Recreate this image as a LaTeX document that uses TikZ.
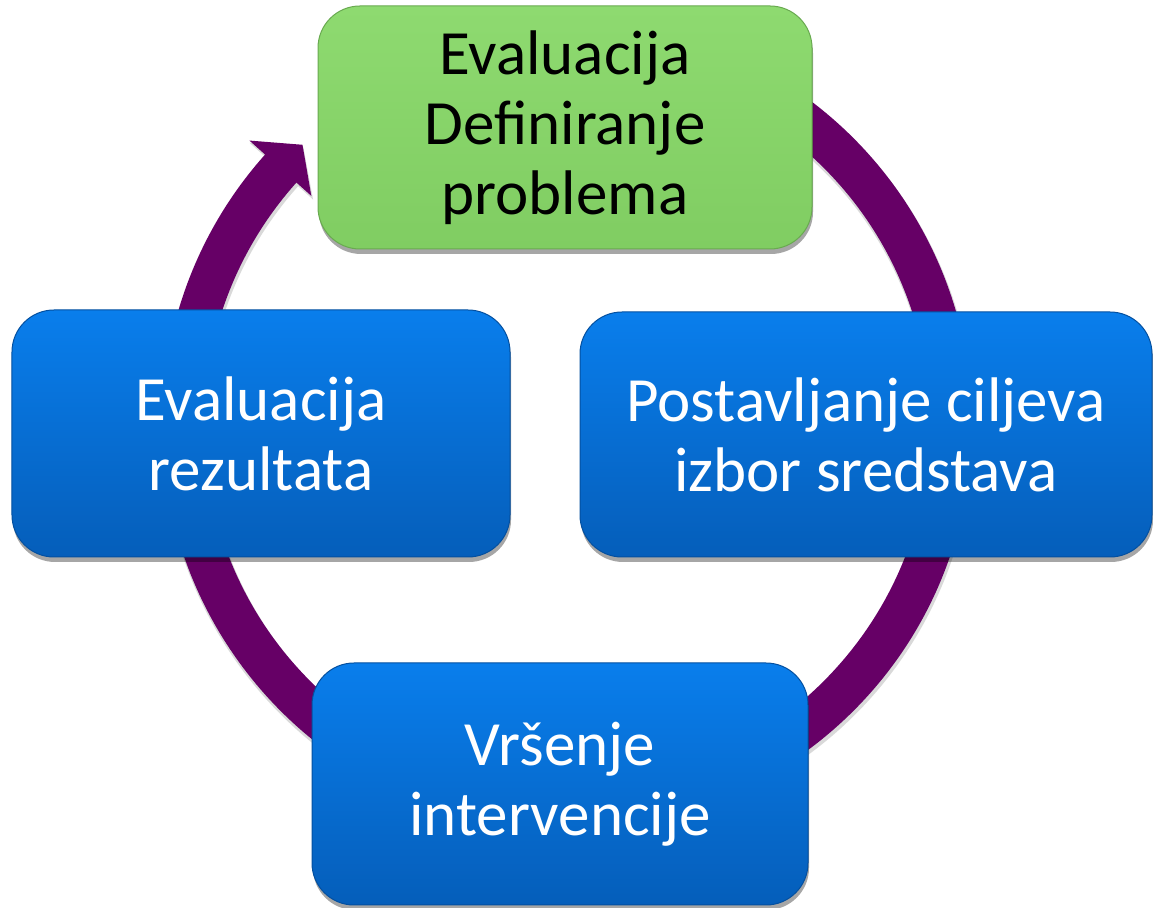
\documentclass[tikz,border=0pt]{standalone}
\usepackage{fontspec}
\setmainfont{Carlito}
\usetikzlibrary{calc,shadows}
\definecolor{ringc}{RGB}{102,0,102}
\definecolor{bluetop}{RGB}{9,126,236}
\definecolor{bluebot}{RGB}{5,94,186}
\definecolor{blueedge}{RGB}{4,80,160}
\definecolor{greentop}{RGB}{142,218,112}
\definecolor{greenbot}{RGB}{128,205,98}
\definecolor{greenedge}{RGB}{105,170,80}
\tikzset{
  ringfill/.style={fill=ringc},
  ringshadow/.style={fill=black, opacity=0.15},
  boxbase/.style={rectangle, rounded corners=42bp, align=center,
    font=\fontsize{63bp}{70bp}\selectfont, inner sep=0pt,
    drop shadow={shadow xshift=1bp, shadow yshift=-5bp, opacity=0.35, fill=black}},
  bluebox/.style={boxbase, top color=bluetop, bottom color=bluebot,
    draw=blueedge, line width=1bp, text=white},
  greenbox/.style={boxbase, top color=greentop, bottom color=greenbot,
    draw=greenedge, line width=1bp, text=black},
}
\begin{document}
\begin{tikzpicture}[x=1bp,y=1bp]
\useasboundingbox[fill=white] (0,0) rectangle (1153,908);
\coordinate (c) at (567,483.5);
\coordinate (cs) at (568,480.5);
% ring shadow
\path[ringshadow] ($(cs)+(80:406)$) arc[start angle=80, end angle=-221.8, radius=406bp]
  -- ($(cs)+(138.2:427)$) -- ($(cs)+(133.4:385)$) -- ($(cs)+(138.2:342)$)
  -- ($(cs)+(138.2:362)$) arc[start angle=138.2, end angle=440, radius=362bp] -- cycle;
% ring with arrowhead
\path[ringfill] ($(c)+(80:405)$) arc[start angle=80, end angle=-221.8, radius=405bp]
  -- ($(c)+(138.2:426)$) -- ($(c)+(133.4:385)$) -- ($(c)+(138.2:343)$)
  -- ($(c)+(138.2:363)$) arc[start angle=138.2, end angle=440, radius=363bp] -- cycle;
% boxes
\node[greenbox, minimum width=494bp, minimum height=243bp] (top) at (565,780.5)
  {Evaluacija\\Definiranje\\problema};
\node[bluebox, minimum width=572bp, minimum height=245bp] (right) at (866,473.5)
  {Postavljanje ciljeva\\izbor sredstava};
\node[bluebox, minimum width=496bp, minimum height=242bp] (bottom) at (560,124)
  {Vršenje\\intervencije};
\node[bluebox, minimum width=498bp, minimum height=247bp] (left) at (261,474.5)
  {Evaluacija\\rezultata};
\end{tikzpicture}
\end{document}
